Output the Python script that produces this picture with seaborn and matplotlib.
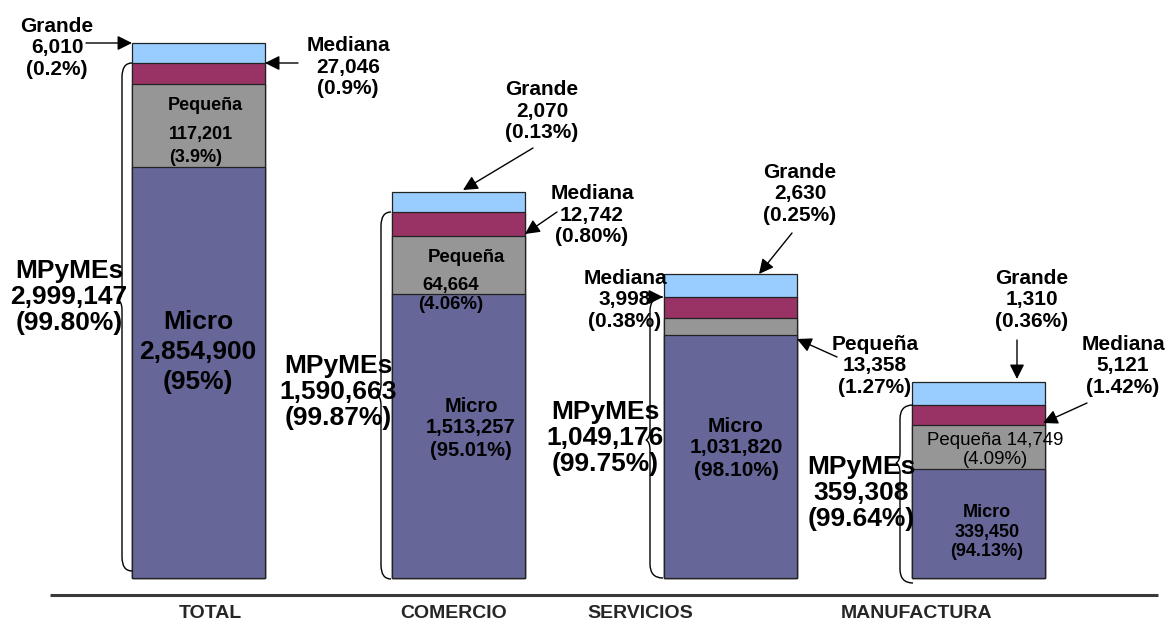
import numpy as np
import pandas as pd
import seaborn as sns
import matplotlib
matplotlib.use("Agg")
import matplotlib.pyplot as plt
from matplotlib.path import Path
from matplotlib.patches import PathPatch

# ---------------- data ----------------
sectors = ["TOTAL", "COMERCIO", "SERVICIOS", "MANUFACTURA"]
micro_n = [2854900, 1513257, 1031820, 339450]
pequena_n = [117201, 64664, 13358, 14749]
mediana_n = [27046, 12742, 3998, 5121]
grande_n = [6010, 2070, 2630, 1310]
mpymes_n = [2999147, 1590663, 1049176, 359308]
micro_pct = ["95%", "95.01%", "98.10%", "94.13%"]
pequena_pct = ["3.9%", "4.06%", "1.27%", "4.09%"]
mediana_pct = ["0.9%", "0.80%", "0.38%", "1.42%"]
grande_pct = ["0.2%", "0.13%", "0.25%", "0.36%"]
mpymes_pct = ["99.80%", "99.87%", "99.75%", "99.64%"]

# segment heights as drawn in the (not-to-scale) original figure
micro_h = [411, 284, 243, 109]
pequena_h = [83, 58, 17, 44]
mediana_h = [21, 24, 21, 20]
grande_h = [20, 20, 23, 23]

C_MICRO = "#666699"
C_PEQ = "#969696"
C_MED = "#993366"
C_GRA = "#99CCFF"

# ---------------- figure ----------------
sns.set_style("white")
plt.rcParams["font.family"] = ["Liberation Sans", "DejaVu Sans"]

W, H = 1167, 623
fig = plt.figure(figsize=(W / 100, H / 100), dpi=100)
ax = fig.add_axes([0, 0, 1, 1])

BASE = 578                      # pixel row of the bar baseline
bar_centres = [198, 458, 730, 978]   # layout: horizontal bar centres (px)
BAR_W = 133


def P(xp, yp):
    return (xp, BASE - yp)


cum1 = np.array(micro_h)
cum2 = cum1 + np.array(pequena_h)
cum3 = cum2 + np.array(mediana_h)
cum4 = cum3 + np.array(grande_h)
df = pd.DataFrame({"sector": sectors, "xpos": bar_centres,
                   "micro": cum1, "peq": cum2, "med": cum3, "gra": cum4})

min_gap = np.min(np.diff(bar_centres))
for col, c in [("gra", C_GRA), ("med", C_MED), ("peq", C_PEQ), ("micro", C_MICRO)]:
    sns.barplot(data=df, x="xpos", y=col, color=c, native_scale=True, orient="x",
                width=BAR_W / min_gap, edgecolor="#222222", linewidth=0.9,
                saturation=1, ax=ax)

ax.set_xlim(0, W)
ax.set_ylim(BASE - H, BASE)
ax.axis("off")

# bottom rule
ax.plot([50, 1158], [BASE - 595, BASE - 595], color="#3a3a3a", lw=2.2,
        solid_capstyle="butt")

# category labels
cat_x = [210, 454, 640, 917]
for name, xp in zip(sectors, cat_x):
    ax.text(*P(xp, 613), name, ha="center", va="center", fontsize=14, fontweight="bold")


def txt(xp, yp, s, size, weight="bold", ls=1.15, ha="center"):
    ax.text(*P(xp, yp), s, ha=ha, va="center", fontsize=size, fontweight=weight,
            linespacing=ls, color="black")


def arrow(x1, y1, x2, y2):
    ax.annotate("", xy=P(x2, y2), xytext=P(x1, y1),
                arrowprops=dict(arrowstyle="-|>", color="black", lw=1.0,
                                mutation_scale=22, shrinkA=0, shrinkB=0))


def brace(xr, y0, y1, ym, d=10):
    xl = xr - d
    pts = [P(xr, y0), P(xl, y0), P(xl, y0 + 14),
           P(xl, ym - 10), P(xl, ym - 2), P(xl - 4, ym),
           P(xl, ym + 2), P(xl, ym + 10),
           P(xl, y1 - 14), P(xl, y1), P(xr, y1)]
    codes = [Path.MOVETO, Path.CURVE3, Path.CURVE3,
             Path.LINETO, Path.CURVE3, Path.CURVE3,
             Path.CURVE3, Path.CURVE3,
             Path.LINETO, Path.CURVE3, Path.CURVE3]
    ax.add_patch(PathPatch(Path(pts, codes), fill=False, lw=1.0, edgecolor="black"))


def num(v):
    return f"{v:,}"

# ----- TOTAL -----
i = 0
txt(57, 48, f"Grande\n{num(grande_n[i])}\n({grande_pct[i]})", 15)
arrow(86, 43, 132, 43)
txt(348, 67, f"Mediana\n{num(mediana_n[i])}\n({mediana_pct[i]})", 15)
arrow(298, 63, 265, 63)
txt(205, 105, "Pequeña", 13)
txt(201, 135, num(pequena_n[i]), 13)
txt(196, 158, f"({pequena_pct[i]})", 13)
txt(198, 352, f"Micro\n{num(micro_n[i])}\n({micro_pct[i]})", 19, ls=1.3)
txt(69, 297, f"MPyMEs\n{num(mpymes_n[i])}\n({mpymes_pct[i]})", 19, ls=1.1)
brace(132, 63, 571, 300)

# ----- COMERCIO -----
i = 1
txt(542, 111, f"Grande\n{num(grande_n[i])}\n({grande_pct[i]})", 15)
arrow(533, 148, 463, 190)
txt(592, 215, f"Mediana\n{num(mediana_n[i])}\n({mediana_pct[i]})", 15)
arrow(557, 212, 525, 234)
txt(466, 257, "Pequeña", 13.4)
txt(451, 295, f"{num(pequena_n[i])}\n({pequena_pct[i]})", 13.4, ls=1.2)
txt(471, 428, f"Micro\n{num(micro_n[i])}\n({micro_pct[i]})", 14.5, ls=1.2)
txt(338, 392, f"MPyMEs\n{num(mpymes_n[i])}\n({mpymes_pct[i]})", 19, ls=1.1)
brace(391, 212, 579, 395)

# ----- SERVICIOS -----
i = 2
txt(800, 194, f"Grande\n{num(grande_n[i])}\n({grande_pct[i]})", 15)
arrow(792, 233, 759, 274)
txt(625, 300, f"Mediana\n{num(mediana_n[i])}\n({mediana_pct[i]})", 15)
arrow(650, 297, 663, 297)
txt(875, 366, f"Pequeña\n{num(pequena_n[i])}\n({pequena_pct[i]})", 15)
arrow(837, 357, 797, 339)
txt(736, 448, f"Micro\n{num(micro_n[i])}\n({micro_pct[i]})", 15, ls=1.2)
txt(605, 438, f"MPyMEs\n{num(mpymes_n[i])}\n({mpymes_pct[i]})", 19, ls=1.1)
brace(663, 297, 578, 440, d=13)

# ----- MANUFACTURA -----
i = 3
txt(1032, 300, f"Grande\n{num(grande_n[i])}\n({grande_pct[i]})", 15)
arrow(1017, 340, 1017, 379)
txt(1123, 366, f"Mediana\n{num(mediana_n[i])}\n({mediana_pct[i]})", 15)
arrow(1087, 403, 1043, 423)
txt(995, 450, f"Pequeña {num(pequena_n[i])}\n({pequena_pct[i]})", 13.4, weight="normal", ls=1.1)
txt(987, 532, f"Micro\n{num(micro_n[i])}\n({micro_pct[i]})", 13, ls=1.2)
txt(861, 493, f"MPyMEs\n{num(mpymes_n[i])}\n({mpymes_pct[i]})", 19, ls=1.1)
brace(913, 405, 583, 463, d=13)

fig.savefig("out.png", dpi=100)
